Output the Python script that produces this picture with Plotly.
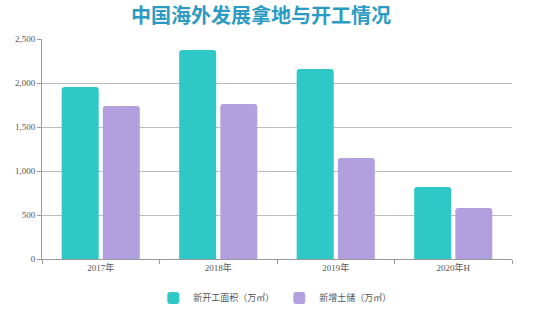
import plotly.graph_objects as go

categories = ["2017年", "2018年", "2019年", "2020年H"]
new_start = [1955, 2375, 2160, 818]
new_land = [1740, 1762, 1148, 580]
series_names = ["新开工面积（万㎡）", "新增土储（万㎡）"]
y_ticks = [0, 500, 1000, 1500, 2000, 2500]
y_tick_labels = ["0", "500", "1,000", "1,500", "2,000", "2,500"]

teal = "#2EC8C6"
purple = "#B29FDD"

fig = go.Figure()
fig.add_trace(go.Bar(x=categories, y=new_start, name=series_names[0],
                     marker=dict(color=teal, cornerradius=3, line=dict(width=0))))
fig.add_trace(go.Bar(x=categories, y=new_land, name=series_names[1],
                     marker=dict(color=purple, cornerradius=3, line=dict(width=0))))

fig.update_layout(
    width=550, height=310,
    margin=dict(l=42, r=38, t=39, b=51, autoexpand=False),
    paper_bgcolor="white", plot_bgcolor="white",
    barmode="group", bargap=0.30, bargroupgap=0.1,
    title=dict(text="<b>中国海外发展拿地与开工情况</b>", x=261 / 550, xanchor="center",
               y=1 - 16 / 310, yanchor="middle",
               font=dict(family="Noto Sans CJK SC", size=20, color="#2B9BC3")),
    font=dict(family="Liberation Serif, Noto Sans CJK SC", size=9, color="#555555"),
    showlegend=True,
    legend=dict(orientation="h", x=273 / 550, xref="paper", xanchor="center",
                y=-0.177, yanchor="middle",
                font=dict(family="Liberation Serif, Noto Sans CJK SC", size=9, color="#555555"),
                traceorder="normal"),
    xaxis=dict(showline=True, linecolor="#9A9A9A", linewidth=1, ticks="outside",
               tickson="boundaries", ticklen=4, tickcolor="#9A9A9A", showgrid=False,
               tickfont=dict(size=9)),
    yaxis=dict(range=[0, 2500], tickvals=y_ticks, ticktext=y_tick_labels,
               showline=True, linecolor="#9A9A9A", linewidth=1, ticks="outside",
               ticklen=4, tickcolor="#9A9A9A", showgrid=True, gridcolor="#BDBDBD",
               gridwidth=1, zeroline=False, tickfont=dict(size=9)),
)

fig.write_html("out.html")
